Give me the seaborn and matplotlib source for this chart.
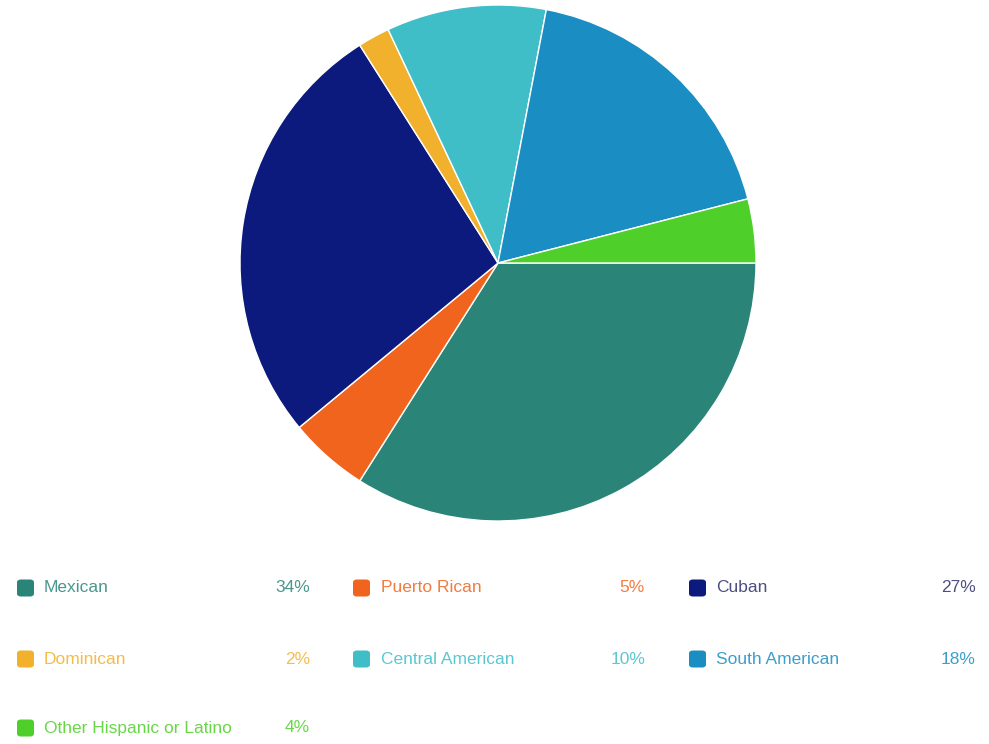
import matplotlib
matplotlib.use("Agg")
import matplotlib.pyplot as plt
import seaborn as sns
from matplotlib.patches import FancyBboxPatch

categories = ["Mexican", "Puerto Rican", "Cuban", "Dominican",
              "Central American", "South American", "Other Hispanic or Latino"]
values = [34, 5, 27, 2, 10, 18, 4]
pct_labels = ["34%", "5%", "27%", "2%", "10%", "18%", "4%"]
colors = ["#2a8578", "#f0641e", "#0b1a7c", "#f2b12c", "#3fbec8", "#1a8dc2", "#4fcf2a"]

sns.set_theme(style="white")
plt.rcParams["font.family"] = ["Liberation Sans", "DejaVu Sans"]

fig = plt.figure(figsize=(9.89, 7.44), dpi=100)
fig.patch.set_facecolor("white")

W, H = 989, 744
cx, cy, r = 498, 263, 258
ax = fig.add_axes([(cx - r) / W, (H - cy - r) / H, 2 * r / W, 2 * r / H])
ax.pie(values, colors=colors, startangle=0, counterclock=False,
       wedgeprops=dict(edgecolor="white", linewidth=1.0))
ax.set_xlim(-1, 1)
ax.set_ylim(-1, 1)
ax.set_aspect("equal")
ax.axis("off")

# legend layout (pixel coordinates)
col_sq_x = [17, 353, 689]
col_txt_x = [44, 381, 716]
col_pct_x = [310, 645, 976]
row_y = [588, 659, 728]
sq = 17

for i, (cat, pct, col) in enumerate(zip(categories, pct_labels, colors)):
    row, c = divmod(i, 3)
    y = row_y[row]
    sx = col_sq_x[c]
    patch = FancyBboxPatch(((sx) / W, (H - y - sq / 2) / H), sq / W, sq / H,
                           boxstyle="round,pad=0,rounding_size=0.004",
                           transform=fig.transFigure, facecolor=col,
                           edgecolor="none")
    fig.add_artist(patch)
    tcol = "#2e2f6e" if cat == "Cuban" else col
    fig.text(col_txt_x[c] / W, (H - y) / H, cat, color=tcol, fontsize=12.5,
             ha="left", va="center", alpha=0.85)
    fig.text(col_pct_x[c] / W, (H - y) / H, pct, color=tcol, fontsize=12.5,
             ha="right", va="center", alpha=0.85)

fig.savefig("out.png", dpi=100, facecolor="white")
